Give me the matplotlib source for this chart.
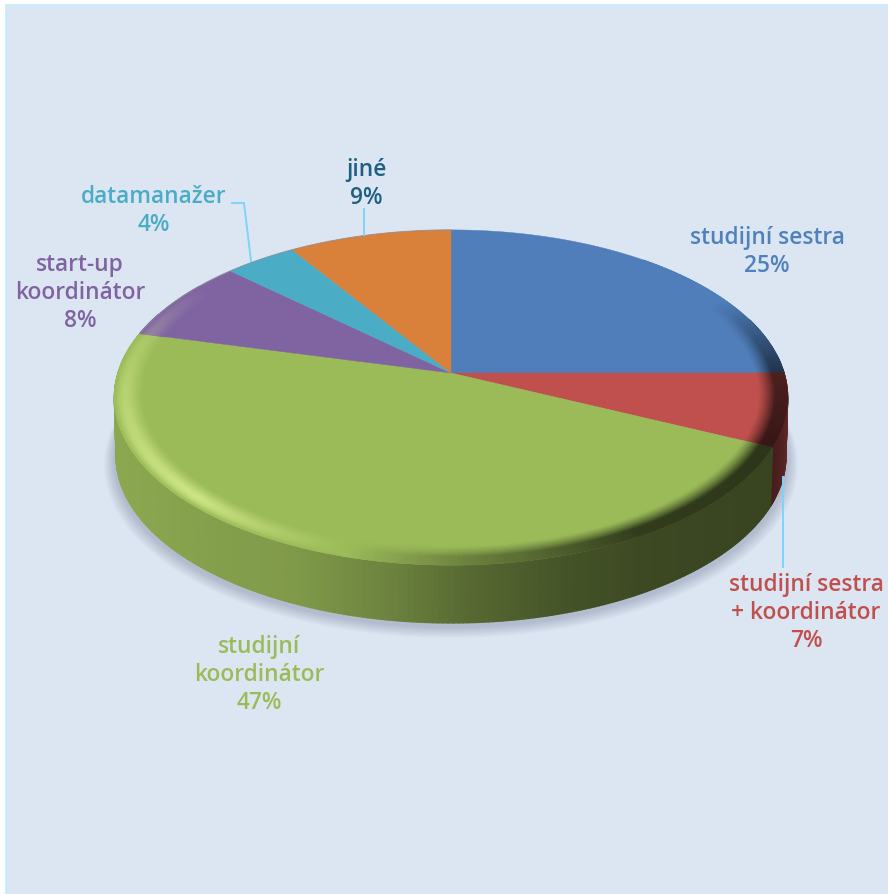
import numpy as np
import matplotlib
matplotlib.use("Agg")
import matplotlib.pyplot as plt
from matplotlib.collections import PolyCollection
from matplotlib.path import Path
from matplotlib.patches import Rectangle
from matplotlib.transforms import Transform, Affine2D

categories = ["studijní sestra", "studijní sestra\n+ koordinátor", "studijní\nkoordinátor",
              "start-up\nkoordinátor", "datamanažer", "jiné"]
values = [25, 7, 47, 8, 4, 9]
face_colors = ["#4F7EBA", "#C0504D", "#9BBB59", "#8064A2", "#4BACC6", "#D9813A"]
text_colors = ["#4F81BD", "#C0504D", "#9BBB59", "#8064A2", "#4BACC6", "#1F5F82"]

CX, CY, BX, BY, K, DEPTH = 451.0, 373.0, 333.0, 164.0, 0.146, 59.0
BG = "#DCE6F2"


class Tilt(Transform):
    """Perspective view of the unit-circle pie plane, in pixel-like data units."""
    input_dims = output_dims = 2

    def transform_non_affine(self, pts):
        pts = np.asarray(pts, float)
        d = 1 + K * pts[:, 1]
        return np.column_stack([CX + BX * pts[:, 0] / d, CY - BY * pts[:, 1] / d])

    def transform_path_non_affine(self, path):
        polys = path.to_polygons(Affine2D().scale(2000), closed_only=False)
        verts = np.vstack(polys) / 2000
        return Path(self.transform_non_affine(verts))


tilt = Tilt()


def ring(theta_deg, r=1.0, dy=0.0):
    t = np.radians(theta_deg)
    p = tilt.transform_non_affine(np.column_stack([r * np.sin(t), r * np.cos(t)]))
    p[:, 1] += dy
    return p


def hex2(c):
    return np.array(matplotlib.colors.to_rgb(c))


# wall brightness as a function of screen x
wall_x = [113, 200, 300, 400, 470, 560, 640, 790]
wall_shade = [0.90, 0.86, 0.82, 0.68, 0.56, 0.45, 0.39, 0.36]


def wall_color(base, x):
    return np.clip(hex2(base) * np.interp(x, wall_x, wall_shade), 0, 1)


def rim_light(theta):
    """negative values darken the rim, positive values lighten it"""
    return np.interp(theta, [62, 90, 115, 150, 178, 196, 225, 270, 290, 305],
                     [0.0, -0.60, -0.72, -0.68, -0.30, 0.0, 0.62, 0.30, 0.15, 0.0])


def rim_color(base, theta, s):
    b = hex2(base)
    light = rim_light(theta)
    if light < 0:
        return b * (1 + light * np.clip(s * 1.7, 0, 1) ** 1.3)
    m = np.sin(np.pi * s ** 1.5)
    return b + (np.array([0.93, 1.0, 0.62]) - b) * light * m


fig = plt.figure(figsize=(8.88, 8.94), dpi=100, facecolor="white")
ax = fig.add_axes([0, 0, 1, 1])

wedges, _ = ax.pie(values, startangle=90, counterclock=False, colors=face_colors,
                   radius=1.0, wedgeprops=dict(linewidth=0))
ax.set_aspect("auto")
ax.set_xlim(0, 888)
ax.set_ylim(894, 0)
ax.axis("off")

ax.add_patch(Rectangle((5.5, 4.5), 900, 900, fc=BG, ec="#CBEBFA", lw=2, zorder=0))

# soft shadow below the disc
ths = np.linspace(0, 360, 361)
for g in np.linspace(0.0, 1.0, 14):
    p = ring(ths, 1.0 + 0.03 * (1 - g), DEPTH + 3 + 4 * (1 - g))
    ax.fill(p[:, 0], p[:, 1], color="#7F8AA3", alpha=0.035, lw=0, zorder=1)

# side wall
bounds = 360 * np.cumsum([0] + values) / sum(values)
polys, cols = [], []
for j, base in enumerate(face_colors):
    lo, hi = max(bounds[j], 70), min(bounds[j + 1], 292)
    if hi <= lo:
        continue
    th = np.arange(lo, hi + 0.75, 0.75)
    th[-1] = hi
    top, bot = ring(th), ring(th, 0.995, DEPTH)
    for a in range(len(th) - 1):
        polys.append([top[a], top[a + 1], bot[a + 1], bot[a]])
        x = top[a:a + 2, 0].mean()
        cols.append(wall_color(base, x) if j != 1 else hex2(base) * np.interp(th[a], [90, 115], [0.62, 0.36]))
ax.add_collection(PolyCollection(polys, facecolors=cols, edgecolors=cols, linewidths=1.0, zorder=2))

# top face
for w in wedges:
    w.set_transform(tilt + ax.transData)
    w.set_zorder(3)
    w.set_edgecolor(w.get_facecolor())
    w.set_linewidth(0.3)

# bevelled rim blended from the face colour outwards
polys, cols = [], []
radii = np.linspace(0.915, 1.0, 16)
for j, base in enumerate(face_colors):
    lo, hi = max(bounds[j], 40), min(bounds[j + 1], 305)
    if hi <= lo:
        continue
    th = np.arange(lo, hi + 0.75, 0.75)
    th[-1] = hi
    for r0, r1 in zip(radii[:-1], radii[1:]):
        s = (0.5 * (r0 + r1) - radii[0]) / (radii[-1] - radii[0])
        inner, outer = ring(th, r0), ring(th, r1)
        for a in range(len(th) - 1):
            tm = 0.5 * (th[a] + th[a + 1])
            polys.append([inner[a], inner[a + 1], outer[a + 1], outer[a]])
            cols.append(np.clip(rim_color(base, tm, s), 0, 1))
ax.add_collection(PolyCollection(polys, facecolors=cols, edgecolors=cols, linewidths=0.6, zorder=4))

# thin grey outline at the back of the disc
back = ring(np.arange(285, 360.5, 0.5))
ax.plot(back[:, 0], back[:, 1], color="#8A8F99", lw=0.8, alpha=0.7, zorder=5)

# leader lines
lead = "#7FD3FA"
ax.plot([364, 364], [209, 235], color=lead, lw=1.4, zorder=6)
ax.plot([232, 244, 251], [203, 203, 261], color=lead, lw=1.4, zorder=6)
ax.plot([783, 783], [477, 567], color=lead, lw=1.4, zorder=3)

# labels
label_xy = [(767, 252), (806, 613), (259, 675), (80, 293), (154, 211), (366, 184)]
for name, v, c, (x, y) in zip(categories, values, text_colors, label_xy):
    ax.text(x, y, f"{name}\n{v}%", color=c, ha="center", va="center", fontsize=16.4,
            family="Open Sans", weight=600, linespacing=1.2, zorder=7)

fig.savefig("out.png", dpi=100, facecolor="white")
